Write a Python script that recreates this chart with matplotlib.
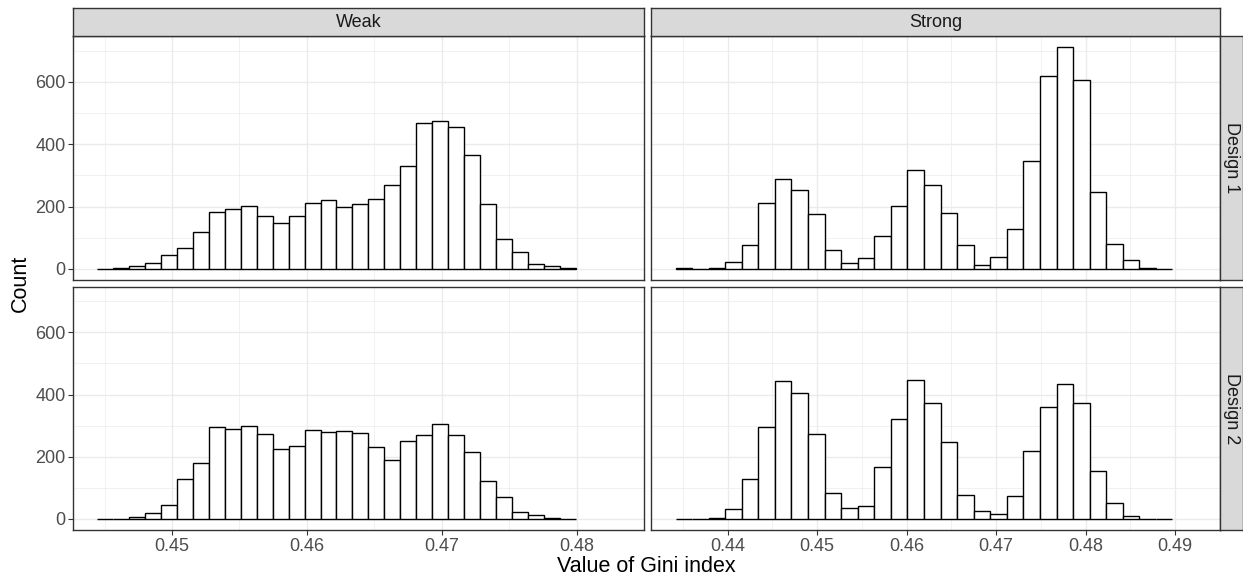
import numpy as np
import matplotlib
matplotlib.use("Agg")
import matplotlib.pyplot as plt

plt.rcParams['font.family'] = ['Liberation Sans', 'DejaVu Sans']

# histogram counts (30 bins per panel)
weak_design1 = [1, 2, 8, 18, 43, 66, 117, 181, 192, 202, 169, 147, 169, 210, 222,
                200, 208, 223, 270, 329, 469, 473, 454, 364, 207, 95, 53, 16, 8, 2]
weak_design2 = [1, 1, 5, 20, 44, 127, 180, 295, 290, 300, 274, 225, 233, 287, 280,
                284, 275, 232, 189, 249, 271, 306, 271, 215, 122, 69, 21, 12, 2, 1]
strong_design1 = [2, 0, 3, 23, 78, 210, 287, 252, 175, 62, 19, 34, 105, 201, 316,
                  268, 180, 76, 14, 37, 127, 346, 618, 711, 606, 246, 81, 27, 2, 0]
strong_design2 = [0, 0, 2, 32, 127, 297, 445, 406, 273, 83, 34, 41, 168, 320, 446,
                  374, 246, 77, 25, 15, 74, 217, 360, 435, 373, 153, 51, 9, 1, 1]

# range of the bins of each column
weak_range = (0.444454, 0.479936)
strong_range = (0.434197, 0.489692)

weak_ticks = [0.45, 0.46, 0.47, 0.48]
strong_ticks = [0.44, 0.45, 0.46, 0.47, 0.48, 0.49]
y_ticks = [0, 200, 400, 600]

col_labels = ['Weak', 'Strong']
row_labels = ['Design 1', 'Design 2']

W, H = 1243, 577
fig = plt.figure(figsize=(W / 100, H / 100), dpi=100)


def box(x0, y0, x1, y1):
    return [x0 / W, 1 - y1 / H, (x1 - x0) / W, (y1 - y0) / H]


col_x = [(73.3, 644.0), (650.7, 1220.0)]
row_y = [(36.0, 280.0), (286.7, 530.0)]

data = [[weak_design1, strong_design1], [weak_design2, strong_design2]]
ranges = [weak_range, strong_range]
ticks = [weak_ticks, strong_ticks]

ymax = max(max(weak_design1), max(weak_design2), max(strong_design1), max(strong_design2))
ylim = (-0.05 * ymax, 1.05 * ymax)

border = '#333333'
grid = '#EBEBEB'

for r in range(2):
    for c in range(2):
        ax = fig.add_axes(box(col_x[c][0], row_y[r][0], col_x[c][1], row_y[r][1]))
        counts = data[r][c]
        lo, hi = ranges[c]
        edges = np.linspace(lo, hi, len(counts) + 1)
        ax.bar(edges[:-1], counts, width=np.diff(edges), align='edge',
               facecolor='white', edgecolor='black', linewidth=1.0, zorder=3)
        span = hi - lo
        ax.set_xlim(lo - 0.05 * span, hi + 0.05 * span)
        ax.set_ylim(*ylim)
        tk = ticks[c]
        step = tk[1] - tk[0]
        minor_x = [t - step / 2 for t in tk] + [tk[-1] + step / 2]
        ax.set_xticks(tk)
        ax.set_xticks(minor_x, minor=True)
        ax.set_yticks(y_ticks)
        ax.set_yticks([100, 300, 500, 700], minor=True)
        ax.grid(True, which='major', color=grid, linewidth=1.0, zorder=0)
        ax.grid(True, which='minor', color=grid, linewidth=0.5, zorder=0)
        ax.set_axisbelow(True)
        for s in ax.spines.values():
            s.set_color(border)
            s.set_linewidth(1.0)
            s.set_zorder(5)
        ax.tick_params(which='minor', length=0)
        ax.tick_params(which='major', length=3.5, width=0.8, color=border,
                       labelsize=13, labelcolor='#4D4D4D', pad=2)
        if r == 1:
            ax.set_xticklabels([f'{t:.2f}' for t in tk])
        else:
            ax.tick_params(axis='x', bottom=False, labelbottom=False)
        if c == 0:
            ax.set_yticklabels([str(t) for t in y_ticks])
        else:
            ax.tick_params(axis='y', left=False, labelleft=False)

# column strips
for c in range(2):
    sax = fig.add_axes(box(col_x[c][0], 8.3, col_x[c][1], 36.0))
    sax.set_facecolor('#D9D9D9')
    sax.set_xticks([])
    sax.set_yticks([])
    for s in sax.spines.values():
        s.set_color(border)
        s.set_linewidth(1.0)
    sax.text(0.5, 0.5, col_labels[c], ha='center', va='center',
             fontsize=13, color='#1A1A1A', transform=sax.transAxes)

# row strips
for r in range(2):
    sax = fig.add_axes(box(1220.0, row_y[r][0], 1243.0, row_y[r][1]))
    sax.set_facecolor('#D9D9D9')
    sax.set_xticks([])
    sax.set_yticks([])
    for s in sax.spines.values():
        s.set_color(border)
        s.set_linewidth(1.0)
    sax.text(0.5, 0.5, row_labels[r], ha='center', va='center', rotation=-90,
             fontsize=13, color='#1A1A1A', transform=sax.transAxes)

fig.text((73.3 + 1220) / 2 / W, 1 - 566 / H, 'Value of Gini index',
         ha='center', va='center', fontsize=15.5, color='black')
fig.text(20 / W, 1 - 283 / H, 'Count', ha='center', va='center',
         rotation=90, fontsize=15.5, color='black')

fig.savefig('out.png', dpi=100)
